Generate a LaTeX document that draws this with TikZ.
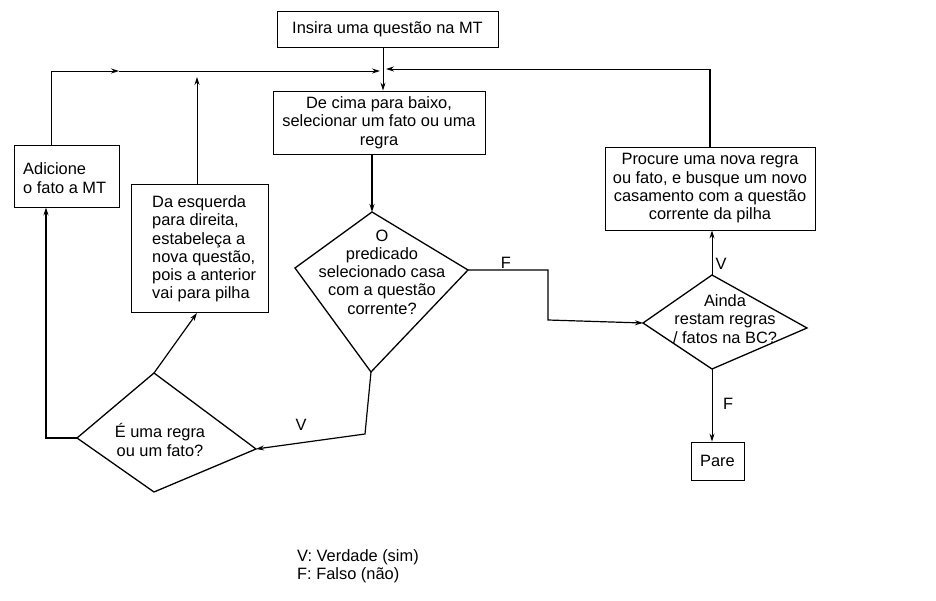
\documentclass[tikz,border=0pt]{standalone}
\usepackage{fontspec}
\setmainfont{Liberation Sans}
\usetikzlibrary{arrows.meta}
\begin{document}
\begin{tikzpicture}[x=1pt,y=-1pt,
  font=\fontsize{16.4}{18.3}\selectfont,
  box/.style={draw,line width=0.9pt,inner sep=0pt,align=center},
  txt/.style={inner sep=0pt,align=center},
  ltxt/.style={inner sep=0pt,align=left,anchor=west},
  lbl/.style={inner sep=0pt},
  dia/.style={draw,line width=1.3pt,line join=miter},
  conn/.style={line width=1.2pt},
  thin/.style={line width=0.9pt},
  arr/.style={-{Stealth[length=8pt,width=5pt]}}]
\useasboundingbox[fill=white] (0,0) rectangle (936,601);

% boxes
\node[box,minimum width=221pt,minimum height=36pt] (insira) at (387.5,29) {Insira uma questão na MT};
\node[box,minimum width=212pt,minimum height=63pt] (cima) at (379,122.5) {De cima para baixo,\\selecionar um fato ou uma\\regra};
\node[box,minimum width=105pt,minimum height=62pt] (adic) at (66.5,176) {};
\node[ltxt] (adict) at (23,178) {Adicione\\o fato a MT};
\node[box,minimum width=137pt,minimum height=128pt] (esq) at (199.5,248.5) {};
\node[ltxt] (esqt) at (152,249) {Da esquerda\\para direita,\\estabeleça a\\nova questão,\\pois a anterior\\vai para pilha};
\node[box,minimum width=210pt,minimum height=83pt] (proc) at (710,188.5) {Procure uma nova regra\\ou fato, e busque um novo\\casamento com a questão\\corrente da pilha};
\node[box,minimum width=53pt,minimum height=38pt] (pare) at (717.5,461) {Pare};

% diamond 1
\coordinate (d1t) at (372,212);
\coordinate (d1l) at (295,268);
\coordinate (d1r) at (468,270);
\coordinate (d1b) at (371,372);
\draw[dia] (d1t) -- (d1r) -- (d1b) -- (d1l) -- cycle;
\node[txt] (d1txt) at (382,272) {O\\predicado\\selecionado casa\\com a questão\\corrente?};

% diamond 2
\coordinate (d2t) at (712,275);
\coordinate (d2l) at (643,323);
\coordinate (d2r) at (807,328);
\coordinate (d2b) at (712,369);
\draw[dia] (d2t) -- (d2r) -- (d2b) -- (d2l) -- cycle;
\node[txt] (d2txt) at (725,319) {Ainda\\restam regras\\/ fatos na BC?};

% diamond 3
\coordinate (d3t) at (154,373);
\coordinate (d3l) at (77,438);
\coordinate (d3r) at (256,449);
\coordinate (d3b) at (154,492);
\draw[dia] (d3t) -- (d3r) -- (d3b) -- (d3l) -- cycle;
\node[txt] (d3txt) at (160,440) {É uma regra\\ou um fato?};

% top bus
\coordinate (busL) at (51,71);
\coordinate (busM) at (119,71);
\coordinate (busR) at (380,71);
\coordinate (esqUp) at (197,77);
\coordinate (retTop) at (710,69);
\coordinate (retEnd) at (386,69);
\draw[thin] (adic.north -| busL) -- (busL);
\draw[thin,arr] (busL) -- (busM);
\draw[thin,arr] (busM) -- (busR);
\draw[thin,arr] (esq.north -| esqUp) -- (esqUp);
\draw[conn] (proc.north -| retTop) -- (retTop);
\draw[thin,arr] (retTop) -- (retEnd);

% main flow
\draw[thin,arr] (insira.south -| 383,0) -- (cima.north -| 383,0);
\draw[conn,arr] (cima.south -| d1t) -- (d1t);

% F from diamond 1 to diamond 2
\coordinate (f1) at (548,270);
\coordinate (f2) at (548,320);
\draw[conn,arr] (d1r) -- (f1) -- (f2) -- (d2l);
\node[lbl] (lF1) at (506,263) {F};

% V up to proc
\draw[thin,arr] (d2t) -- (proc.south -| d2t);
\node[lbl] (lV2) at (721,264) {V};

% F down to pare
\draw[thin,arr] (d2b) -- (pare.north -| d2b);
\node[lbl] (lF2) at (728,404) {F};

% V from diamond 1 to diamond 3
\coordinate (v1) at (365,434);
\draw[conn,arr] (d1b) -- (v1) -- (d3r);
\node[lbl] (lV1) at (301,425) {V};

% diamond 3 left to adicione
\coordinate (l1) at (46,438);
\draw[conn,arr] (d3l) -- (l1) -- (adic.south -| l1);

% diamond 3 top to esq
\draw[conn,arr] (d3t) -- (esq.south -| 197,0);

% legend
\node[ltxt] (leg) at (297,566) {V: Verdade (sim)\\F: Falso (não)};
\end{tikzpicture}
\end{document}
